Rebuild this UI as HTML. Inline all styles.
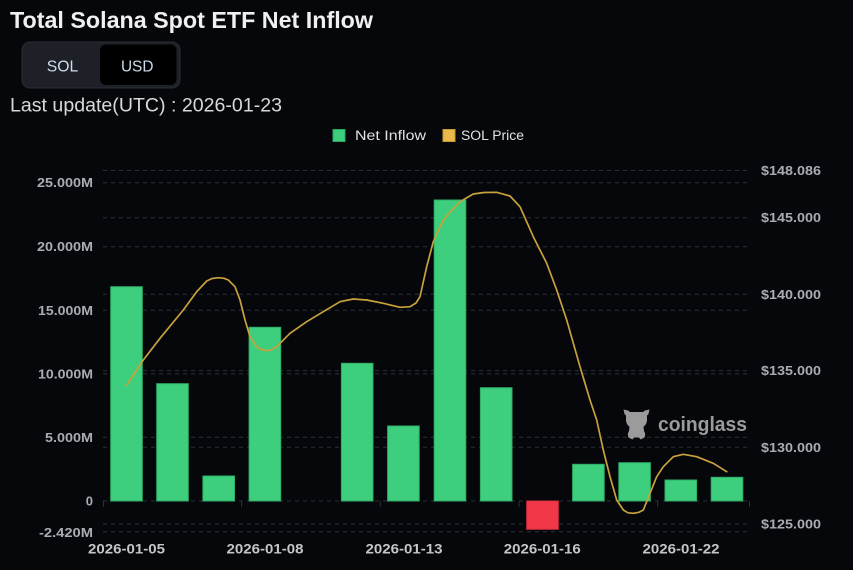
<!DOCTYPE html>
<html><head><meta charset="utf-8"><style>
html,body{margin:0;padding:0;background:#05070b;}
svg{display:block;font-family:"Liberation Sans",Arial,sans-serif;}
</style></head><body>
<svg width="853" height="570" viewBox="0 0 853 570" xmlns="http://www.w3.org/2000/svg">
<rect x="0" y="0" width="853" height="570" fill="#05070b"/>
<!-- Title -->
<text x="10" y="28" font-size="23" font-weight="bold" fill="#f0f0f0" textLength="363" lengthAdjust="spacingAndGlyphs">Total Solana Spot ETF Net Inflow</text>
<!-- Toggle -->
<rect x="22" y="42" width="158" height="46" rx="8" fill="#1d2026" stroke="#2b2e35" stroke-width="1"/>
<rect x="100" y="44.5" width="76.5" height="40.5" rx="6" fill="#000000"/>
<text x="62.5" y="71.5" font-size="16" fill="#cfdcec" text-anchor="middle" textLength="31.5" lengthAdjust="spacingAndGlyphs">SOL</text>
<text x="137.2" y="71.5" font-size="16" fill="#cfdcec" text-anchor="middle" textLength="32.5" lengthAdjust="spacingAndGlyphs">USD</text>
<!-- Last update -->
<text x="10" y="111.5" font-size="19" fill="#d9d9d9" textLength="272" lengthAdjust="spacingAndGlyphs">Last update(UTC) : 2026-01-23</text>
<!-- Legend -->
<rect x="333" y="129.5" width="12" height="12" fill="#3ecf7e" stroke="#2aa862" stroke-width="1"/>
<text x="355" y="140" font-size="13.5" fill="#e2e2e2" textLength="71" lengthAdjust="spacingAndGlyphs">Net Inflow</text>
<rect x="443" y="129.5" width="12" height="12" fill="#eab94a" stroke="#c99a30" stroke-width="1"/>
<text x="461" y="140" font-size="13.5" fill="#e2e2e2" textLength="63" lengthAdjust="spacingAndGlyphs">SOL Price</text>
<!-- Grid lines -->
<g stroke="#2c3038" stroke-width="1" stroke-dasharray="4 4" fill="none">
<line x1="103" y1="170.5" x2="750" y2="170.5"/>
<line x1="103" y1="182.7" x2="750" y2="182.7"/>
<line x1="103" y1="217.7" x2="750" y2="217.7"/>
<line x1="103" y1="246.7" x2="750" y2="246.7"/>
<line x1="103" y1="294.3" x2="750" y2="294.3"/>
<line x1="103" y1="310.3" x2="750" y2="310.3"/>
<line x1="103" y1="370.7" x2="750" y2="370.7"/>
<line x1="103" y1="373.9" x2="750" y2="373.9"/>
<line x1="103" y1="437.3" x2="750" y2="437.3"/>
<line x1="103" y1="447.3" x2="750" y2="447.3"/>
<line x1="103" y1="501" x2="750" y2="501"/>
<line x1="103" y1="524" x2="750" y2="524"/>
<line x1="103" y1="531.8" x2="750" y2="531.8"/>
</g>
<!-- ticks -->
<g stroke="#2c3038" stroke-width="1">
<line x1="103.5" y1="501" x2="103.5" y2="507"/>
<line x1="241.6" y1="501" x2="241.6" y2="507"/>
<line x1="380.3" y1="501" x2="380.3" y2="507"/>
<line x1="519" y1="501" x2="519" y2="507"/>
<line x1="657.6" y1="501" x2="657.6" y2="507"/>
<line x1="749.5" y1="501" x2="749.5" y2="507"/>
</g>
<!-- Left axis labels -->
<g font-size="13" fill="#a9acb1" text-anchor="end" font-weight="bold">
<text x="93" y="187.2" textLength="56" lengthAdjust="spacingAndGlyphs">25.000M</text>
<text x="93" y="251.2" textLength="56" lengthAdjust="spacingAndGlyphs">20.000M</text>
<text x="93" y="314.8" textLength="55" lengthAdjust="spacingAndGlyphs">15.000M</text>
<text x="93" y="378.4" textLength="55" lengthAdjust="spacingAndGlyphs">10.000M</text>
<text x="93" y="442" textLength="48" lengthAdjust="spacingAndGlyphs">5.000M</text>
<text x="93" y="505.5">0</text>
<text x="93" y="537" textLength="54" lengthAdjust="spacingAndGlyphs">-2.420M</text>
</g>
<!-- Right axis labels -->
<g font-size="13" fill="#a9acb1" font-weight="bold">
<text x="761" y="175" textLength="60" lengthAdjust="spacingAndGlyphs">$148.086</text>
<text x="761" y="222.2" textLength="60" lengthAdjust="spacingAndGlyphs">$145.000</text>
<text x="761" y="298.8" textLength="60" lengthAdjust="spacingAndGlyphs">$140.000</text>
<text x="761" y="375.2" textLength="60" lengthAdjust="spacingAndGlyphs">$135.000</text>
<text x="761" y="451.8" textLength="60" lengthAdjust="spacingAndGlyphs">$130.000</text>
<text x="761" y="528.5" textLength="60" lengthAdjust="spacingAndGlyphs">$125.000</text>
</g>
<!-- X labels -->
<g font-size="13.5" fill="#c4c6c9" text-anchor="middle" font-weight="bold">
<text x="126.5" y="553.5" textLength="77" lengthAdjust="spacingAndGlyphs">2026-01-05</text>
<text x="265" y="553.5" textLength="77" lengthAdjust="spacingAndGlyphs">2026-01-08</text>
<text x="404" y="553.5" textLength="77" lengthAdjust="spacingAndGlyphs">2026-01-13</text>
<text x="542.3" y="553.5" textLength="77" lengthAdjust="spacingAndGlyphs">2026-01-16</text>
<text x="681" y="553.5" textLength="77" lengthAdjust="spacingAndGlyphs">2026-01-22</text>
</g>
<!-- Watermark -->
<g fill="#9b9b9b">
<path d="M623.5,409.5 L628,410.5 L630,412 L643,412 L645,410.5 L649.5,409.5 L648.5,414 L647,415.5 L647,421 Q646,425.5 643.5,426.5 L644,431 Q646,434 644.5,437.5 L640.5,439.5 L639,437.5 L634,437.5 L632.5,439.5 L628.5,437.5 Q627,434 629,431 L629.5,426.5 Q627,425.5 626,421 L626,415.5 L624.5,414 Z"/>
<text x="658" y="431" font-size="20" font-weight="bold" textLength="89" lengthAdjust="spacingAndGlyphs">coinglass</text>
</g>
<!-- Bars -->
<g fill="#3ecf7e" stroke="#2fae66" stroke-width="1">
<rect x="110.7" y="286.7" width="31.6" height="214.3"/>
<rect x="156.7" y="383.7" width="31.6" height="117.3"/>
<rect x="202.9" y="476" width="31.6" height="25"/>
<rect x="249.1" y="327.3" width="31.6" height="173.7"/>
<rect x="341.4" y="363.3" width="31.6" height="137.7"/>
<rect x="387.6" y="426" width="31.6" height="75"/>
<rect x="434.2" y="200" width="31.6" height="301"/>
<rect x="480.4" y="387.7" width="31.6" height="113.3"/>
<rect x="572.6" y="464.3" width="31.6" height="36.7"/>
<rect x="618.8" y="462.7" width="31.6" height="38.3"/>
<rect x="665" y="480" width="31.6" height="21"/>
<rect x="711.2" y="477.3" width="31.6" height="23.7"/>
</g>
<rect x="526.7" y="501" width="31.6" height="28.3" fill="#f23848" stroke="#d42f3e" stroke-width="1"/>
<!-- SOL price line -->
<polyline fill="none" stroke="#c9a23c" stroke-width="1.7" stroke-linejoin="round" stroke-linecap="round" points="126.7,385 143.3,360 160,338.3 183.3,310 196.7,291.7 206.7,281 212,278.5 218.3,277.7 224,278.3 228.3,280 235,286.7 240,300 245,320 250,336.7 256.7,346.7 261,349.5 266.7,350.7 271,350 276.7,346.7 290,333.3 306.7,321.7 323.3,311.7 340,301.7 353.3,299 366.7,300 383.3,303.3 400,307.3 410,306.7 416,303 420,296.7 426.7,266.7 433.3,241.7 443.3,220 451,211 460,201.7 473.3,194 484,192.5 496.7,192.3 510,196 520,206.7 533.3,236.7 546.7,263.3 556.7,290 566.7,320 580,366.7 590,400 596.7,420 603.3,450 610,476.7 616.7,500 623.3,510 628,512.8 633.3,513.3 639,512.3 643.3,510 650,493.3 656.7,476.7 663.3,466.7 673.3,456.7 683.3,454.3 696.7,456.7 713.3,463.3 726.7,471.7"/>
</svg>
</body></html>
